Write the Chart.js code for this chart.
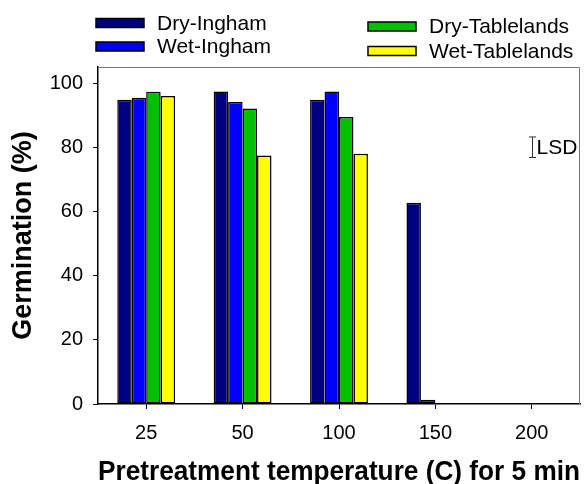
<!DOCTYPE html>
<html lang="en">
<head>
    <meta charset="UTF-8">
    <title>Germination after pretreatment</title>
    <style>
        body { margin: 0; background: #fff; }
        #wrap { width: 584px; height: 484px; }
    </style>
</head>
<body>
    <div id="wrap">
        <canvas id="germChart" width="584" height="484"></canvas>
    </div>

    <script src="https://cdn.jsdelivr.net/npm/chart.js"></script>
    <script>
        // Values
        const categories = ['25', '50', '100', '150', '200'];
        const dryIngham = [94.8, 97.4, 94.8, 62.7, 0];
        const wetIngham = [95.4, 94.1, 97.4, 1.3, 0];
        const dryTablelands = [97.3, 92.1, 89.4, 0, 0];
        const wetTablelands = [96.0, 77.4, 78.0, 0, 0];
        const yTicks = [0, 20, 40, 60, 80, 100];
        const lsdCenter = 80;
        const lsdValue = 6.4;

        const FONT = '"Liberation Sans", Arial, sans-serif';

        // legend in two staggered columns, like the original figure
        const legendPlugin = {
            id: 'staggeredLegend',
            afterDraw(chart) {
                const ctx = chart.ctx;
                const spots = [
                    { x: 96, y: 23 },
                    { x: 96, y: 46.5 },
                    { x: 368, y: 26.5 },
                    { x: 368, y: 51 }
                ];
                ctx.save();
                ctx.font = '21px ' + FONT;
                ctx.textBaseline = 'middle';
                chart.data.datasets.forEach(function(ds, i) {
                    const s = spots[i];
                    ctx.fillStyle = ds.backgroundColor;
                    ctx.fillRect(s.x, s.y - 4.5, 48, 9);
                    ctx.lineWidth = 1.5;
                    ctx.strokeStyle = '#000';
                    ctx.strokeRect(s.x, s.y - 4.5, 48, 9);
                    ctx.fillStyle = '#000';
                    ctx.fillText(ds.label, s.x + 61, s.y + 1);
                });
                ctx.restore();
            }
        };

        // gray frame on top/right + LSD bar
        const extrasPlugin = {
            id: 'extras',
            afterDraw(chart) {
                const ctx = chart.ctx;
                const area = chart.chartArea;
                const xs = chart.scales.x;
                const ys = chart.scales.y;
                ctx.save();
                ctx.strokeStyle = '#777';
                ctx.lineWidth = 1;
                ctx.beginPath();
                ctx.moveTo(area.left, area.top + 0.5);
                ctx.lineTo(area.right - 0.5, area.top + 0.5);
                ctx.lineTo(area.right - 0.5, area.bottom);
                ctx.stroke();

                // LSD
                const lx = Math.round(xs.getPixelForValue(4)) + 0.5;
                const yTop = ys.getPixelForValue(lsdCenter + lsdValue / 2);
                const yBot = ys.getPixelForValue(lsdCenter - lsdValue / 2);
                ctx.strokeStyle = '#333';
                ctx.beginPath();
                ctx.moveTo(lx, yTop); ctx.lineTo(lx, yBot);
                ctx.moveTo(lx - 3.5, yTop); ctx.lineTo(lx + 3.5, yTop);
                ctx.moveTo(lx - 3.5, yBot); ctx.lineTo(lx + 3.5, yBot);
                ctx.stroke();
                ctx.fillStyle = '#000';
                ctx.font = '21px ' + FONT;
                ctx.textBaseline = 'middle';
                ctx.fillText('LSD', lx + 4, (yTop + yBot) / 2 + 1);
                ctx.restore();
            }
        };

        function bar(label, data, color) {
            return {
                label: label,
                data: data,
                backgroundColor: color,
                borderColor: '#000',
                borderWidth: 1.5,
                borderSkipped: false,
                categoryPercentage: 0.6,
                barPercentage: 1.0
            };
        }

        new Chart(document.getElementById('germChart'), {
            type: 'bar',
            data: {
                labels: categories,
                datasets: [
                    bar('Dry-Ingham', dryIngham, '#000080'),
                    bar('Wet-Ingham', wetIngham, '#0000ff'),
                    bar('Dry-Tablelands', dryTablelands, '#00c000'),
                    bar('Wet-Tablelands', wetTablelands, '#ffff00')
                ]
            },
            options: {
                responsive: false,
                animation: false,
                layout: { padding: { top: 67, right: 4, left: 0, bottom: 0 } },
                plugins: {
                    legend: { display: false },
                    tooltip: { enabled: false }
                },
                scales: {
                    x: {
                        grid: { offset: false, drawOnChartArea: false, drawTicks: true, tickLength: 5, color: '#000' },
                        border: { color: '#000', width: 1.5 },
                        ticks: { color: '#000', font: { family: FONT, size: 20 }, padding: 12 },
                        title: {
                            display: true,
                            text: 'Pretreatment temperature (C) for 5 min',
                            color: '#000',
                            font: { family: FONT, size: 27, weight: 'bold', lineHeight: 1 },
                            padding: { top: 0, bottom: -2 }
                        },
                        afterFit(scale) { scale.height = 80; }
                    },
                    y: {
                        min: 0,
                        max: 105,
                        grid: { drawOnChartArea: false, drawTicks: true, tickLength: 5, color: '#000' },
                        border: { color: '#000', width: 1.5 },
                        ticks: { color: '#000', font: { family: FONT, size: 20 }, padding: 10 },
                        afterBuildTicks(scale) {
                            scale.ticks = yTicks.map(function(v) { return { value: v }; });
                        },
                        title: {
                            display: true,
                            text: 'Germination (%)',
                            color: '#000',
                            font: { family: FONT, size: 27, weight: 'bold', lineHeight: 1 },
                            padding: { top: 10, bottom: 0 }
                        },
                        afterFit(scale) { scale.width = 98; }
                    }
                }
            },
            plugins: [legendPlugin, extrasPlugin]
        });
    </script>
</body>
</html>
